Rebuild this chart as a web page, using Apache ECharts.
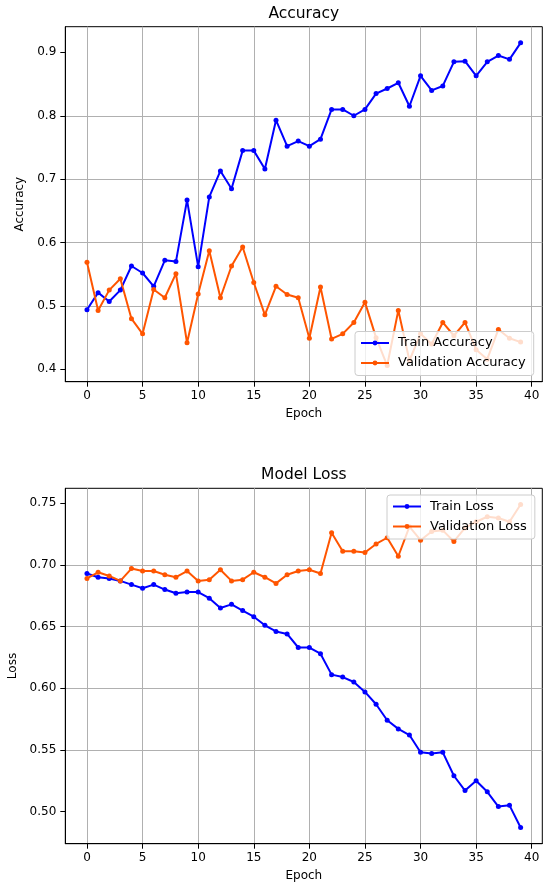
<!DOCTYPE html>
<html>
<head>
<meta charset="utf-8">
<script src="https://cdn.jsdelivr.net/npm/echarts@6/dist/echarts.min.js"></script>
<style>html,body{margin:0;padding:0;background:#fff}#c{width:548px;height:889px}</style>
</head>
<body>
<div id="c"></div>
<script>
const epochs = [0,1,2,3,4,5,6,7,8,9,10,11,12,13,14,15,16,17,18,19,20,21,22,23,24,25,26,27,28,29,30,31,32,33,34,35,36,37,38,39];
const trainAcc = [0.494,0.521,0.507,0.525,0.563,0.552,0.531,0.572,0.570,0.667,0.562,0.672,0.713,0.685,0.745,0.745,0.716,0.793,0.752,0.760,0.752,0.763,0.810,0.810,0.800,0.810,0.835,0.843,0.852,0.815,0.863,0.840,0.847,0.885,0.886,0.863,0.885,0.895,0.889,0.915];
const valAcc = [0.569,0.493,0.525,0.543,0.480,0.456,0.526,0.513,0.551,0.442,0.519,0.587,0.513,0.563,0.593,0.537,0.486,0.531,0.518,0.513,0.449,0.530,0.448,0.456,0.474,0.506,0.450,0.406,0.493,0.414,0.456,0.440,0.474,0.453,0.474,0.431,0.416,0.463,0.449,0.443];
const trainLoss = [0.693,0.690,0.689,0.687,0.684,0.681,0.684,0.680,0.677,0.678,0.678,0.673,0.665,0.668,0.663,0.658,0.651,0.646,0.644,0.633,0.633,0.628,0.611,0.609,0.605,0.597,0.587,0.574,0.567,0.562,0.548,0.547,0.548,0.529,0.517,0.525,0.516,0.504,0.505,0.487];
const valLoss = [0.689,0.694,0.691,0.687,0.697,0.695,0.695,0.692,0.690,0.695,0.687,0.688,0.696,0.687,0.688,0.694,0.690,0.685,0.692,0.695,0.696,0.693,0.726,0.711,0.711,0.710,0.717,0.722,0.707,0.731,0.720,0.727,0.728,0.719,0.730,0.735,0.739,0.738,0.735,0.749];
const xTicks = [0,5,10,15,20,25,30,35,40];
const accTicks = [0.4,0.5,0.6,0.7,0.8,0.9];
const lossTicks = [0.50,0.55,0.60,0.65,0.70,0.75];

function pad(arrs){
  let mn = Infinity, mx = -Infinity;
  arrs.forEach(a => a.forEach(v => { mn = Math.min(mn, v); mx = Math.max(mx, v); }));
  const m = (mx - mn) * 0.05;
  return [mn - m, mx + m];
}
const xr = pad([epochs]);
const accR = pad([trainAcc, valAcc]);
const lossR = pad([trainLoss, valLoss]);

const FONT = 'DejaVu Sans';
const BLUE = '#0000ff';
const ORANGE = '#ff5500';
const txt = {color:'#000', fontFamily: FONT, fontSize: 12};

function xAxis(gi){
  return {
    type:'value', gridIndex: gi, min: xr[0], max: xr[1], splitNumber: 9,
    name:'Epoch', nameLocation:'middle', nameGap: 26, nameTextStyle: txt,
    axisLine:{show:true, onZero:false, lineStyle:{color:'#000', width:1}},
    axisTick:{show:true, length:5, lineStyle:{color:'#000'}, customValues: xTicks},
    axisLabel:{...txt, margin:8, customValues: xTicks},
    splitLine:{show:true, lineStyle:{color:'#b0b0b0', width:1}}
  };
}
function yAxis(gi, r, ticks, name, gap, dec){
  return {
    type:'value', gridIndex: gi, min: r[0], max: r[1], splitNumber: 5,
    name: name, nameLocation:'middle', nameGap: gap, nameTextStyle: txt,
    axisLine:{show:true, onZero:false, lineStyle:{color:'#000', width:1}},
    axisTick:{show:true, length:5, lineStyle:{color:'#000'}, customValues: ticks},
    axisLabel:{...txt, margin:9, customValues: ticks, formatter: v => v.toFixed(dec)},
    splitLine:{show:true, showMinLine:false, showMaxLine:false, lineStyle:{color:'#b0b0b0', width:1}}
  };
}
function line(name, data, color, xi, yi){
  return {
    name, type:'line', xAxisIndex: xi, yAxisIndex: yi,
    data: epochs.map((e, i) => [e, data[i]]),
    symbol:'circle', symbolSize:5, showSymbol:true,
    lineStyle:{color, width:2}, itemStyle:{color},
    animation:false, emphasis:{disabled:true}
  };
}
const legendBase = {
  orient:'vertical', itemWidth:28, itemHeight:6, itemGap:7,
  backgroundColor:'rgba(255,255,255,0.8)', borderColor:'#cccccc', borderWidth:1, borderRadius:3,
  textStyle:{...txt, fontSize:13, padding:[0,0,0,4]}, selectedMode:false, z:10
};

const chart = echarts.init(document.getElementById('c'), null, {renderer:'canvas'});
chart.setOption({
  animation:false,
  backgroundColor:'#fff',
  title:[
    {text:'Accuracy', left:303.8, top:6, textAlign:'center', padding:0, textStyle:{color:'#000', fontFamily:FONT, fontSize:15.5, fontWeight:'normal'}},
    {text:'Model Loss', left:303.8, top:467, textAlign:'center', padding:0, textStyle:{color:'#000', fontFamily:FONT, fontSize:15.5, fontWeight:'normal'}}
  ],
  grid:[
    {left:65.3, top:26.7, width:477, height:355, show:true, borderColor:'#000', borderWidth:1, backgroundColor:'transparent', outerBoundsMode:'none'},
    {left:65.3, top:488.3, width:477, height:355.4, show:true, borderColor:'#000', borderWidth:1, backgroundColor:'transparent', outerBoundsMode:'none'}
  ],
  xAxis:[xAxis(0), xAxis(1)],
  yAxis:[yAxis(0, accR, accTicks, 'Accuracy', 33, 1), yAxis(1, lossR, lossTicks, 'Loss', 39, 2)],
  legend:[
    {...legendBase, data:['Train Accuracy','Validation Accuracy'], left:355, top:331.5, padding:[5,8,6,5]},
    {...legendBase, data:['Train Loss','Validation Loss'], left:387, top:495, padding:[5,8,6,5]}
  ],
  series:[
    line('Train Accuracy', trainAcc, BLUE, 0, 0),
    line('Validation Accuracy', valAcc, ORANGE, 0, 0),
    line('Train Loss', trainLoss, BLUE, 1, 1),
    line('Validation Loss', valLoss, ORANGE, 1, 1)
  ]
});
</script>
</body>
</html>
